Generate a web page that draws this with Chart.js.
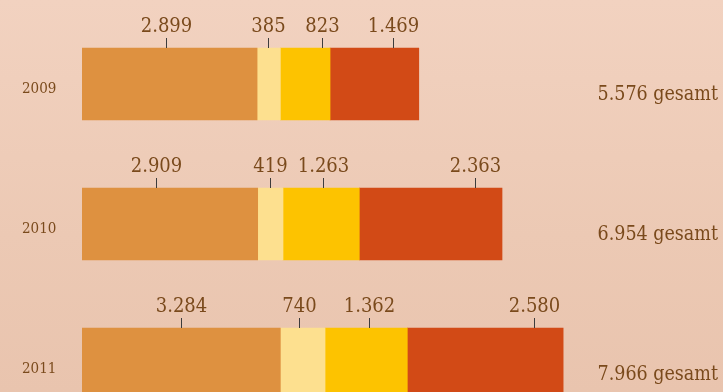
<!DOCTYPE html>
<html>
<head>
<meta charset="utf-8">
<script src="https://cdn.jsdelivr.net/npm/chart.js@4"></script>
<style>
html,body{margin:0;padding:0;overflow:hidden;width:723px;height:392px;}
body{background:linear-gradient(to bottom,#f2d2c0 0%,#ecc9b4 60%,#e9c4ae 100%);}
#wrap{width:723px;height:443px;}
</style>
</head>
<body>
<div id="wrap"><canvas id="c" width="723" height="443"></canvas></div>
<script>
// ---- data ----
const years = ['2009', '2010', '2011'];
const seriesA = [2899, 2909, 3284];
const seriesB = [385, 419, 740];
const seriesC = [823, 1263, 1362];
const seriesD = [1469, 2363, 2580];
const totalSuffix = ' gesamt';

// ---- styling / layout ----
const colors = ['#de9140', '#fde08f', '#fdc300', '#d24a16'];
const textColor = '#7a4a1c';
const fontFamily = '"DejaVu Serif Condensed", "DejaVu Serif", serif';
// where the value label sits inside each segment (fraction of segment width)
const labelAnchor = [
  [0.48, 0.48, 0.84, 0.71],
  [0.42, 0.48, 0.53, 0.81],
  [0.50, 0.42, 0.53, 0.81]
];

function fmt(n) {
  return String(n).replace(/\B(?=(\d{3})+(?!\d))/g, '.');
}

const allSeries = [seriesA, seriesB, seriesC, seriesD];

const labelPlugin = {
  id: 'segLabels',
  afterDatasetsDraw(chart) {
    const ctx = chart.ctx;
    ctx.save();
    const n = chart.data.datasets.length;
    for (let d = 0; d < n; d++) {
      const meta = chart.getDatasetMeta(d);
      meta.data.forEach((bar, j) => {
        const p = bar.getProps(['x', 'y', 'base', 'height'], true);
        const left = Math.min(p.x, p.base), right = Math.max(p.x, p.base);
        const top = p.y - p.height / 2;
        const tx = Math.round(left + labelAnchor[j][d] * (right - left)) + 0.5;
        ctx.strokeStyle = '#3c3c3c';
        ctx.lineWidth = 1;
        ctx.beginPath();
        ctx.moveTo(tx, top - 10);
        ctx.lineTo(tx, top);
        ctx.stroke();
        ctx.fillStyle = textColor;
        ctx.font = '20px ' + fontFamily;
        ctx.textAlign = 'center';
        ctx.textBaseline = 'alphabetic';
        ctx.fillText(fmt(chart.data.datasets[d].data[j]), tx, top - 16.5);
      });
    }
    // totals
    const meta0 = chart.getDatasetMeta(0);
    meta0.data.forEach((bar, j) => {
      let total = 0;
      for (let d = 0; d < n; d++) total += chart.data.datasets[d].data[j];
      ctx.fillStyle = textColor;
      ctx.font = '19.5px ' + fontFamily;
      ctx.textAlign = 'right';
      ctx.textBaseline = 'alphabetic';
      ctx.fillText(fmt(total) + totalSuffix, 718, bar.y + 16);
    });
    ctx.restore();
  }
};

new Chart(document.getElementById('c'), {
  type: 'bar',
  data: {
    labels: years,
    datasets: allSeries.map((s, i) => ({
      data: s,
      backgroundColor: colors[i],
      borderWidth: 0,
      barThickness: 72,
      stack: 'total'
    }))
  },
  options: {
    indexAxis: 'y',
    responsive: false,
    animation: false,
    events: [],
    layout: { padding: { top: 14, right: 37, bottom: 0, left: 22 } },
    plugins: { legend: { display: false }, tooltip: { enabled: false } },
    scales: {
      x: {
        stacked: true,
        display: false,
        min: 0,
        max: 10000
      },
      y: {
        stacked: true,
        grid: { display: false, drawTicks: false },
        border: { display: false },
        afterFit(scale) { scale.width = 60; },
        ticks: {
          color: textColor,
          font: { family: fontFamily, size: 15 },
          padding: 0,
          crossAlign: 'far',
          labelOffset: 5
        }
      }
    }
  },
  plugins: [labelPlugin]
});
</script>
</body>
</html>
